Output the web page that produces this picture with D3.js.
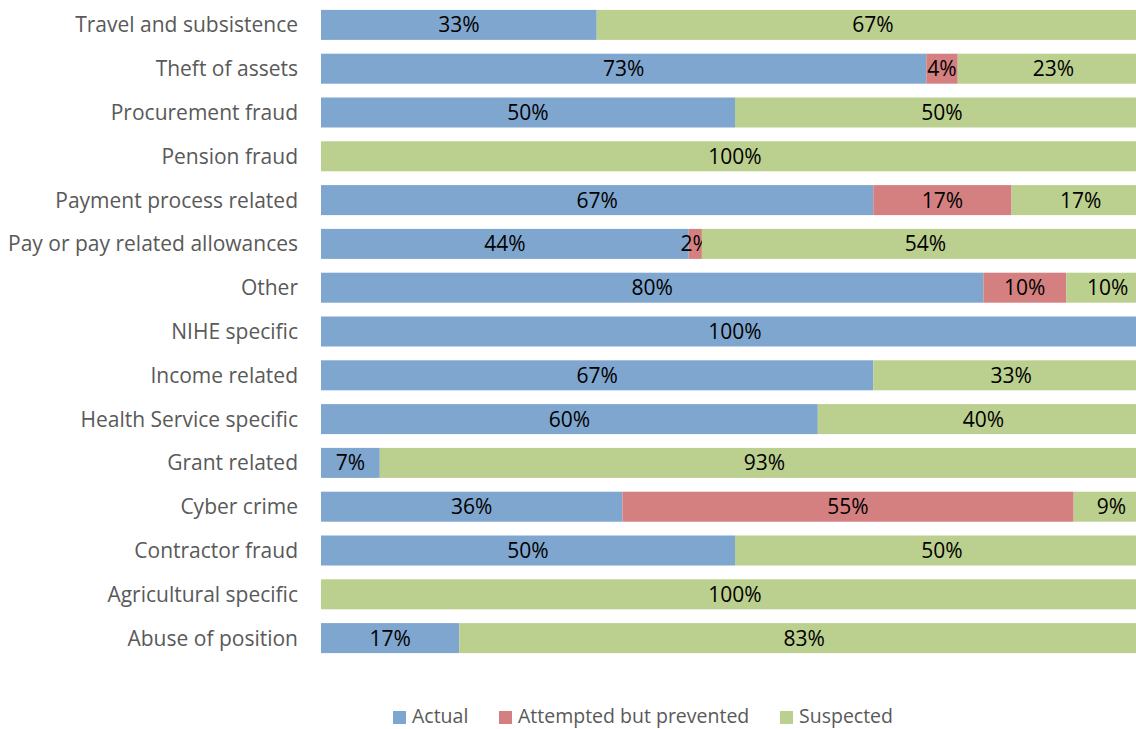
<!DOCTYPE html>
<html>
<head>
<meta charset="utf-8">
<script src="https://cdn.jsdelivr.net/npm/d3@7"></script>
<style>
  body { margin: 0; background: #fff; overflow: hidden; }
  svg { display: block; font-family: "Open Sans", sans-serif; }
</style>
</head>
<body>
<div id="chart"></div>
<script>
// categories top to bottom, shares in percent
const categories = ["Travel and subsistence", "Theft of assets", "Procurement fraud", "Pension fraud",
  "Payment process related", "Pay or pay related allowances", "Other", "NIHE specific", "Income related",
  "Health Service specific", "Grant related", "Cyber crime", "Contractor fraud", "Agricultural specific",
  "Abuse of position"];
const actual    = [33.3, 73.1, 50, 0, 66.7, 44.4, 80, 100, 66.7, 60, 7.1, 36.4, 50, 0, 16.7];
const attempted = [0, 3.8, 0, 0, 16.7, 1.6, 10, 0, 0, 0, 0, 54.5, 0, 0, 0];
const suspected = [66.7, 23.1, 50, 100, 16.7, 54.0, 10, 0, 33.3, 40, 92.9, 9.1, 50, 100, 83.3];
const seriesNames = ["Actual", "Attempted but prevented", "Suspected"];
const colors = ["#7fa6cf", "#d48080", "#bbcf8e"];

const W = 1136, H = 729;
const margin = {top: 3, left: 321, bottom: 69};
const plotW = 828; // plot runs past the right edge of the picture

const svg = d3.select("#chart").append("svg")
  .attr("width", W).attr("height", H);

const rows = categories.map((c, i) => ({cat: c, Actual: actual[i], "Attempted but prevented": attempted[i], Suspected: suspected[i]}));
const stack = d3.stack().keys(seriesNames)(rows);

const x = d3.scaleLinear().domain([0, 100]).range([margin.left, margin.left + plotW]);
const y = d3.scaleBand().domain(categories).range([margin.top, H - margin.bottom]).paddingInner(0.315).paddingOuter(0.1575);

const groups = svg.selectAll("g.series").data(stack).enter().append("g")
  .attr("fill", (d, i) => colors[i]);

groups.selectAll("rect").data(d => d).enter().append("rect")
  .attr("x", d => x(d[0]))
  .attr("y", d => y(d.data.cat))
  .attr("width", d => x(d[1]) - x(d[0]))
  .attr("height", y.bandwidth());

groups.selectAll("text").data(d => d.filter(p => p[1] - p[0] > 0)).enter().append("text")
  .attr("x", d => (x(d[0]) + x(d[1])) / 2)
  .attr("y", d => y(d.data.cat) + y.bandwidth() / 2)
  .attr("dy", "0.36em")
  .attr("text-anchor", "middle")
  .attr("fill", "#000")
  .style("font-size", "21px")
  .text(d => Math.round(d[1] - d[0]) + "%");

// category axis
const yAxis = svg.append("g")
  .attr("transform", "translate(" + (margin.left - 23) + ",0)")
  .call(d3.axisLeft(y).tickSize(0).tickPadding(0));
yAxis.attr("font-family", null).attr("font-size", null);
yAxis.select(".domain").remove();
yAxis.selectAll("text").attr("fill", "#595959").style("font-size", "21px").attr("dy", "0.36em");

// legend
const legendX = [393, 499, 780];
const legend = svg.append("g").selectAll("g").data(seriesNames).enter().append("g")
  .attr("transform", (d, i) => "translate(" + legendX[i] + ",716)");
legend.append("rect").attr("x", 0).attr("y", -5).attr("width", 13).attr("height", 13)
  .attr("fill", (d, i) => colors[i]);
legend.append("text").attr("x", 19).attr("dy", "0.36em")
  .attr("fill", "#595959").style("font-size", "19.5px").text(d => d);
</script>
</body>
</html>
